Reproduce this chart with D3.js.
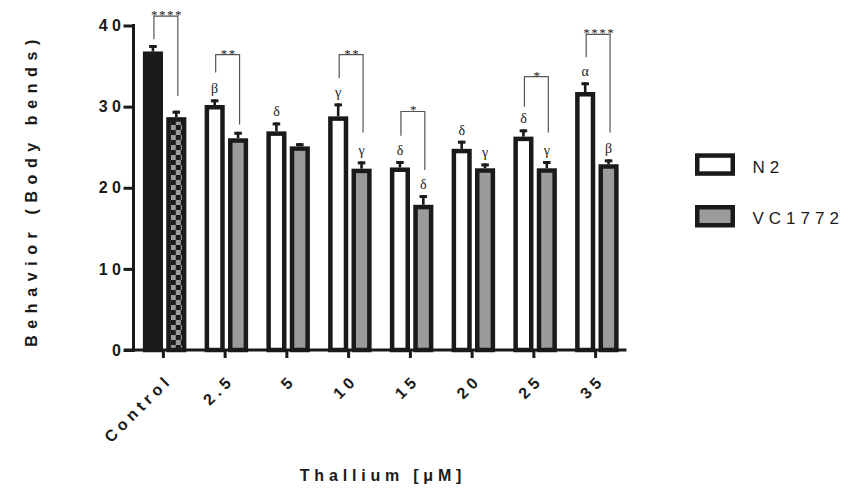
<!DOCTYPE html>
<html>
<head>
<meta charset="utf-8">
<script src="https://cdn.jsdelivr.net/npm/d3@7"></script>
<style>
  body { margin: 0; background: #fff; }
  svg { display: block; font-family: "Liberation Sans", Arial, sans-serif; }
</style>
</head>
<body>
<svg width="856" height="492"></svg>
<script>
// ====== data ====== //
const categories = ["Control", "2.5", "5", "10", "15", "20", "25", "35"];
const series = ["N2", "VC1772"];

const n2Means = [36.8, 30.2, 26.95, 28.8, 22.5, 24.8, 26.3, 31.8];
const n2Err   = [0.8, 0.7, 1.1, 1.6, 0.8, 1.0, 0.9, 1.2];
const vcMeans = [28.7, 26.1, 25.1, 22.35, 17.9, 22.4, 22.4, 22.9];
const vcErr   = [0.8, 0.8, 0.4, 0.9, 1.2, 0.6, 0.9, 0.6];

const n2Letters = ["", "β", "δ", "γ", "δ", "δ", "δ", "α"];
const vcLetters = ["", "", "", "γ", "δ", "γ", "γ", "β"];

const yTicks = [0, 10, 20, 30, 40];

// significance brackets : category, stars, top of bracket, end of left leg, end of right leg
const bracketCats  = ["Control", "2.5", "10", "15", "25", "35"];
const bracketStars = ["****", "**", "**", "*", "*", "****"];
const bracketTop   = [41.15, 36.4, 36.4, 29.4, 33.7, 38.9];
const bracketLeft  = [38.3, 34.2, 33.5, 26.4, 30.0, 36.1];
const bracketRight = [31.3, 27.8, 26.8, 22.2, 26.8, 26.8];

// ====== setup ====== //
const svg = d3.select("svg");
const ink = "#1a1a1a";
const grey = "#9b9b9b";
const sw = 4.5; // bar outline

const x = d3.scaleBand().domain(categories).range([132.5, 626.5]);
const x1 = d3.scaleBand().domain(series).range([-20.5, 23]).paddingInner(0.14);
const y = d3.scaleLinear().domain([0, 40]).range([350, 25.5]);
const cx = c => x(c) + x.bandwidth() / 2;

// checker pattern for the control VC1772 bar
const defs = svg.append("defs");
const pat = defs.append("pattern")
  .attr("id", "checker")
  .attr("patternUnits", "userSpaceOnUse")
  .attr("width", 10).attr("height", 10)
  .attr("x", cx("Control") + x1("VC1772") + sw).attr("y", 0);
pat.append("rect").attr("width", 10).attr("height", 10).attr("fill", grey);
pat.append("rect").attr("width", 5).attr("height", 5).attr("fill", ink);
pat.append("rect").attr("x", 5).attr("y", 5).attr("width", 5).attr("height", 5).attr("fill", ink);

// rows for bars
const rows = [];
categories.forEach((c, i) => {
  rows.push({cat: c, s: "N2", v: n2Means[i], e: n2Err[i], lab: n2Letters[i], i});
  rows.push({cat: c, s: "VC1772", v: vcMeans[i], e: vcErr[i], lab: vcLetters[i], i});
});

function fillOf(d) {
  if (d.i === 0) return d.s === "N2" ? ink : "url(#checker)";
  return d.s === "N2" ? "#fff" : grey;
}

const bw = x1.bandwidth();

// error bars (upper only)
const eb = svg.append("g");
rows.forEach(d => {
  const xc = cx(d.cat) + x1(d.s) + bw / 2;
  eb.append("line")
    .attr("x1", xc).attr("x2", xc)
    .attr("y1", y(d.v)).attr("y2", y(d.v + d.e))
    .attr("stroke", ink).attr("stroke-width", 2.6);
  eb.append("line")
    .attr("x1", xc - 3.8).attr("x2", xc + 3.8)
    .attr("y1", y(d.v + d.e) + 1.5).attr("y2", y(d.v + d.e) + 1.5)
    .attr("stroke", ink).attr("stroke-width", 3);
});

// bars
svg.append("g").selectAll("rect")
  .data(rows)
  .join("rect")
  .attr("x", d => cx(d.cat) + x1(d.s) + sw / 2)
  .attr("width", bw - sw)
  .attr("y", d => y(d.v) + sw / 2)
  .attr("height", d => y(0) - y(d.v) - sw / 2)
  .attr("fill", fillOf)
  .attr("stroke", ink)
  .attr("stroke-width", sw);

// greek letters
svg.append("g").selectAll("text")
  .data(rows.filter(d => d.lab))
  .join("text")
  .attr("x", d => cx(d.cat) + x1(d.s) + bw / 2)
  .attr("y", d => y(d.v + d.e) - 6)
  .attr("text-anchor", "middle")
  .attr("font-family", "'Liberation Serif', 'DejaVu Serif', serif")
  .attr("font-size", 14)
  .attr("fill", ink)
  .text(d => d.lab);

// brackets
const br = svg.append("g");
bracketCats.forEach((c, i) => {
  const xl = cx(c) + x1("N2") + bw / 2 + 1;
  const xr = cx(c) + x1("VC1772") + bw / 2 + 1.5;
  br.append("path")
    .attr("d", `M${xl},${y(bracketLeft[i])}V${y(bracketTop[i])}H${xr}V${y(bracketRight[i])}`)
    .attr("fill", "none")
    .attr("stroke", "#555")
    .attr("stroke-width", 1.2);
  br.append("text")
    .attr("x", (xl + xr) / 2 + 1)
    .attr("y", y(bracketTop[i]) + 3)
    .attr("text-anchor", "middle")
    .attr("font-family", "'Liberation Serif', serif")
    .attr("font-size", 13)
    .attr("letter-spacing", 1.5)
    .attr("fill", ink)
    .text(bracketStars[i]);
});

// ====== axes ====== //
const yAxis = svg.append("g")
  .attr("transform", "translate(133.5,0)")
  .call(d3.axisLeft(y).tickValues(yTicks).tickSize(10).tickSizeOuter(0));
yAxis.select(".domain").remove();
yAxis.selectAll(".tick line").attr("stroke", ink).attr("stroke-width", 3).attr("x2", -10).attr("x1", 1.5);
yAxis.selectAll(".tick text")
  .attr("x", -8)
  .attr("font-size", 16).attr("font-weight", "bold").attr("fill", ink)
  .attr("letter-spacing", 4.5).attr("font-family", "'Liberation Sans', Arial, sans-serif");
svg.append("line")
  .attr("x1", 133.5).attr("x2", 133.5)
  .attr("y1", y(0)).attr("y2", y(40) - 1.5)
  .attr("stroke", ink).attr("stroke-width", 3);

const xAxis = svg.append("g")
  .attr("transform", "translate(0,350)")
  .call(d3.axisBottom(x).tickSize(8).tickSizeOuter(0));
xAxis.select(".domain").remove();
xAxis.selectAll(".tick line").attr("stroke", ink).attr("stroke-width", 3);
xAxis.selectAll(".tick text")
  .attr("font-size", 16).attr("font-weight", "bold").attr("fill", ink)
  .attr("letter-spacing", 4.5)
  .attr("font-family", "'Liberation Sans', Arial, sans-serif")
  .attr("text-anchor", "end")
  .attr("dy", null)
  .attr("y", null)
  .attr("transform", "translate(10,31) rotate(-45)");
svg.append("line")
  .attr("x1", 124).attr("x2", 626.5)
  .attr("y1", 350).attr("y2", 350)
  .attr("stroke", ink).attr("stroke-width", 3);

// axis titles
svg.append("text")
  .attr("transform", "translate(37,190) rotate(-90)")
  .attr("text-anchor", "middle")
  .attr("font-size", 16).attr("font-weight", "bold")
  .attr("letter-spacing", 6.6)
  .attr("fill", ink)
  .text("Behavior (Body bends)");

svg.append("text")
  .attr("x", 383).attr("y", 481)
  .attr("text-anchor", "middle")
  .attr("font-size", 16).attr("font-weight", "bold")
  .attr("letter-spacing", 4.8)
  .attr("fill", ink)
  .text("Thallium [μM]");

// ====== legend ====== //
const legend = svg.append("g");
const legendY = [153.3, 205];
series.forEach((s, i) => {
  legend.append("rect")
    .attr("x", 695 + sw / 2).attr("y", legendY[i] + sw / 2)
    .attr("width", 40 - sw).attr("height", 22.5 - sw)
    .attr("fill", i === 0 ? "#fff" : grey)
    .attr("stroke", ink).attr("stroke-width", sw);
  legend.append("text")
    .attr("x", 752.5).attr("y", legendY[i] + 19.3)
    .attr("font-size", 17)
    .attr("letter-spacing", 5)
    .attr("fill", ink)
    .text(s);
});
</script>
</body>
</html>
